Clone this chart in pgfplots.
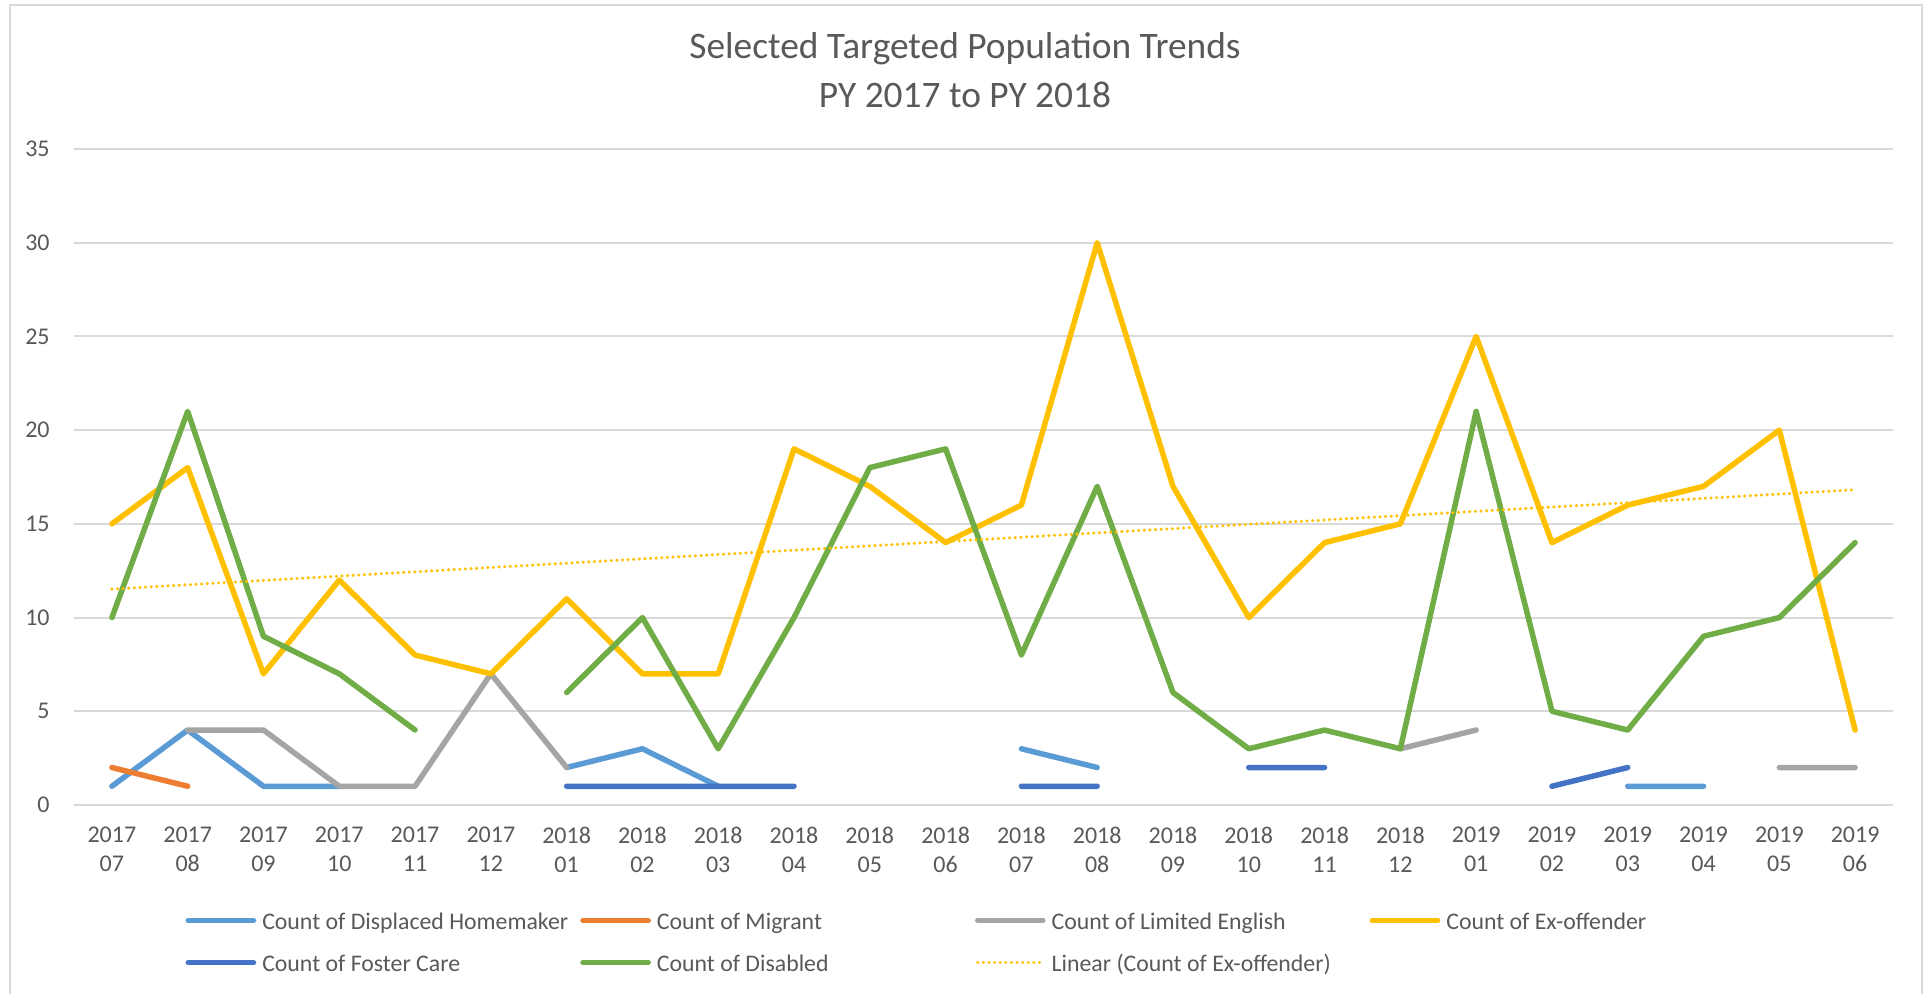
\documentclass[border=0pt]{standalone}
\usepackage{pgfplots}
\usepackage{pgfplotstable}
\pgfplotsset{compat=1.18}
\usepackage{fontspec}
\setmainfont{Carlito}

\definecolor{txt}{HTML}{595959}
\definecolor{gridc}{HTML}{D9D9D9}
\definecolor{cDH}{HTML}{5B9BD5}
\definecolor{cMig}{HTML}{ED7D31}
\definecolor{cLE}{HTML}{A5A5A5}
\definecolor{cEx}{HTML}{FFC000}
\definecolor{cFC}{HTML}{4472C4}
\definecolor{cDis}{HTML}{70AD47}

% monthly counts, July 2017 (x=0) to June 2019 (x=23); nan = no record
\pgfplotstableread{
x  dh  mig le  ex fc  dis
0  1   2   nan 15 nan 10
1  4   1   4   18 nan 21
2  1   nan 4   7  nan 9
3  1   nan 1   12 nan 7
4  nan nan 1   8  nan 4
5  nan nan 7   7  nan nan
6  2   nan 2   11 1   6
7  3   nan nan 7  1   10
8  1   nan nan 7  1   3
9  nan nan nan 19 1   10
10 nan nan nan 17 nan 18
11 nan nan nan 14 nan 19
12 3   nan nan 16 1   8
13 2   nan nan 30 1   17
14 nan nan nan 17 nan 6
15 nan nan nan 10 2   3
16 nan nan nan 14 2   4
17 nan nan 3   15 nan 3
18 nan nan 4   25 nan 21
19 nan nan nan 14 1   5
20 1   nan nan 16 2   4
21 1   nan nan 17 nan 9
22 nan nan 2   20 nan 10
23 nan nan 2   4  nan 14
}\datatable

\newcommand{\lent}[1]{\makebox[159pt][l]{\strut #1}}

\begin{document}
\begin{tikzpicture}
\useasboundingbox (0,0) rectangle (963.5pt,497pt);
\fill[white] (0,0) rectangle (963.5pt,497pt);
\draw[gridc, line width=1pt] (5pt,-5pt) rectangle (961pt,494.5pt);

\begin{axis}[
  at={(37pt,94.5pt)}, anchor=south west,
  scale only axis, width=909.5pt, height=328pt,
  xmin=-0.5, xmax=23.5, ymin=0, ymax=35,
  axis lines*=left, axis line style={draw=none},
  major tick length=0pt,
  ytick={0,5,...,35},
  xtick={0,...,23},
  xticklabels={{2017\\07},{2017\\08},{2017\\09},{2017\\10},{2017\\11},{2017\\12},
    {2018\\01},{2018\\02},{2018\\03},{2018\\04},{2018\\05},{2018\\06},
    {2018\\07},{2018\\08},{2018\\09},{2018\\10},{2018\\11},{2018\\12},
    {2019\\01},{2019\\02},{2019\\03},{2019\\04},{2019\\05},{2019\\06}},
  ymajorgrids, major grid style={gridc, line width=1pt},
  /pgf/number format/assume math mode=true,
  ticklabel style={font=\fontsize{12}{14.5}\selectfont, text=txt},
  xticklabel style={align=center, inner sep=0pt, anchor=north, yshift=-11pt},
  yticklabel style={inner sep=0pt, anchor=east, xshift=-12pt},
  unbounded coords=jump,
  every axis plot/.append style={line width=2.75pt, line cap=round, line join=round},
  legend columns=4,
  legend style={draw=none, fill=none, at={(axis description cs:0.4953,-0.2081)}, anchor=center,
    font=\fontsize{11.9}{14.5}\selectfont, text=txt, inner sep=0pt, row sep=9.4pt,
    nodes={inner sep=0pt},
    /tikz/every odd column/.append style={column sep=3pt}},
  legend image code/.code={\draw[#1] (1.4pt,0pt) -- (34pt,0pt);},
  clip=false,
]
\addplot[cDH]  table[x=x, y=dh]  {\datatable}; \addlegendentry{\lent{Count of Displaced Homemaker}}
\addplot[cMig] table[x=x, y=mig] {\datatable}; \addlegendentry{\lent{Count of Migrant}}
\addplot[cLE]  table[x=x, y=le]  {\datatable}; \addlegendentry{\lent{Count of Limited English}}
\addplot[cEx]  table[x=x, y=ex]  {\datatable}; \addlegendentry{\lent{Count of Ex-offender}}
\addplot[cFC]  table[x=x, y=fc]  {\datatable}; \addlegendentry{\lent{Count of Foster Care}}
\addplot[cDis] table[x=x, y=dis] {\datatable}; \addlegendentry{\lent{Count of Disabled}}
% least-squares trend of the ex-offender counts
\addplot[cEx, line width=1.7pt, line cap=round, dash pattern=on 0.01pt off 2.8pt]
  coordinates {(0,11.52) (23,16.82)};
\addlegendentry{\lent{Linear (Count of Ex-offender)}}
\end{axis}

\node[text=txt, font=\fontsize{18.7}{24}\selectfont, anchor=base] at (482.5pt,467.5pt) {Selected Targeted Population Trends};
\node[text=txt, font=\fontsize{18.7}{24}\selectfont, anchor=base] at (482.5pt,443pt) {PY 2017 to PY 2018};
\end{tikzpicture}
\end{document}
